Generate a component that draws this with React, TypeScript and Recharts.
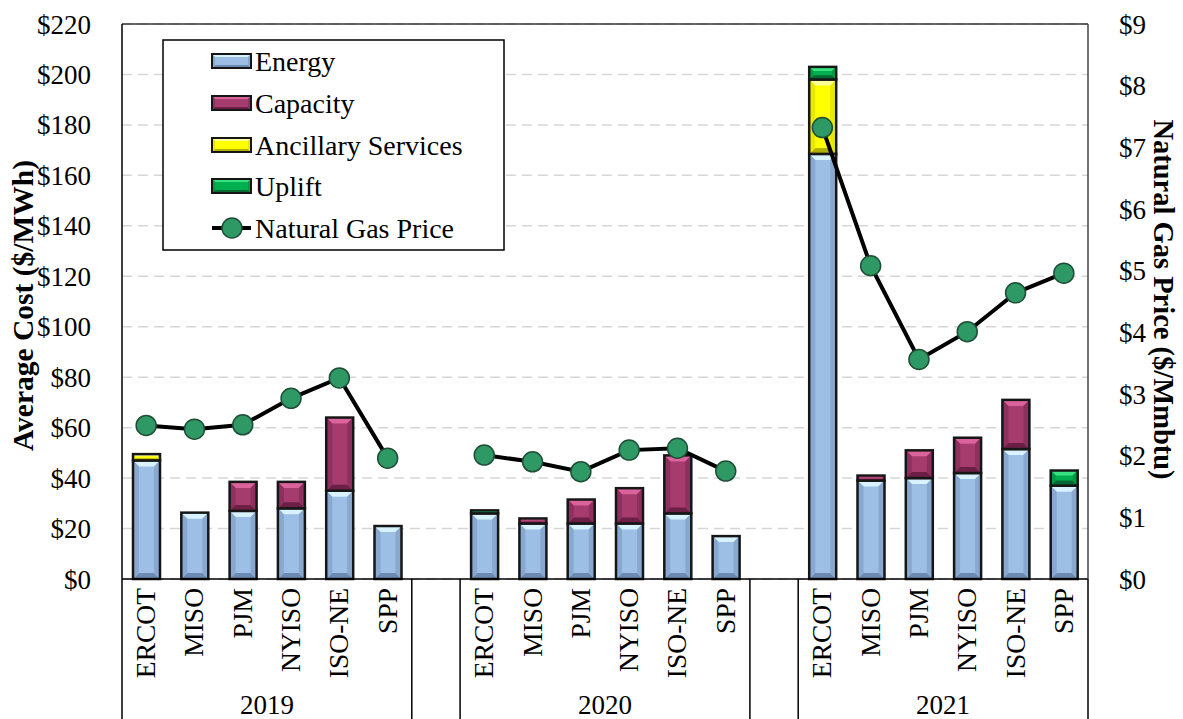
import React from "react";
import {
  Bar,
  CartesianGrid,
  ComposedChart,
  Line,
  ReferenceLine,
  XAxis,
  YAxis,
} from "recharts";

const years = ["2019", "2020", "2021"];
const markets = ["ERCOT", "MISO", "PJM", "NYISO", "ISO-NE", "SPP"];

// 18 values each: 2019 x6, 2020 x6, 2021 x6 ($/MWh)
const energy = [47, 26.3, 27, 28, 35, 21, 26, 22, 22, 22, 26, 17, 168.5, 39, 40, 42, 51.5, 37];
const capacity = [0, 0, 11.5, 10.5, 29, 0, 0, 2, 9.5, 14, 23, 0, 0, 2, 11, 14, 19.5, 0];
const ancillary = [2.5, 0, 0, 0, 0, 0, 0, 0, 0, 0, 0, 0, 29.5, 0, 0, 0, 0, 0];
const uplift = [0, 0, 0, 0, 0, 0, 1.2, 0, 0, 0, 0, 0, 5, 0, 0, 0, 0, 6];
// $/Mmbtu
const gasPrice = [2.49, 2.43, 2.5, 2.93, 3.26, 1.96, 2.01, 1.9, 1.74, 2.09, 2.12, 1.75, 7.32, 5.08, 3.56, 4.01, 4.64, 4.96];

const costTicks = [0, 20, 40, 60, 80, 100, 120, 140, 160, 180, 200, 220];
const gasTicks = [0, 1, 2, 3, 4, 5, 6, 7, 8, 9];

const W = 1183;
const H = 719;
const LEFT_W = 122;
const RIGHT_W = 95;
const TOP = 24;
const XAXIS_H = 140;
const PLOT_W = W - LEFT_W - RIGHT_W;
const PLOT_BOTTOM = H - XAXIS_H;
const FONT = '"Liberation Serif", "Times New Roman", serif';

type Row = {
  id: string;
  name: string;
  year: string;
  pos: number;
  energy?: number | null;
  capacity?: number | null;
  ancillary?: number | null;
  uplift?: number | null;
  gas?: number | null;
};

const nz = (v: number) => (v ? v : null);

const rows: Row[] = [];
years.forEach((yr, yi) => {
  if (yi > 0) rows.push({ id: "gap" + yi, name: "", year: "", pos: -1 });
  markets.forEach((m, mi) => {
    const i = yi * 6 + mi;
    rows.push({
      id: yr + "-" + m,
      name: m,
      year: yr,
      pos: mi,
      energy: nz(energy[i]),
      capacity: nz(capacity[i]),
      ancillary: nz(ancillary[i]),
      uplift: nz(uplift[i]),
      gas: gasPrice[i],
    });
  });
});
const byId: Record<string, Row> = {};
rows.forEach((r) => (byId[r.id] = r));
const HALF = PLOT_W / rows.length / 2;

type Pal = { base: string; light: string; side: string; dark: string };
const PAL: Record<string, Pal> = {
  energy: { base: "#9DBFE5", light: "#D8F3FF", side: "#88A8D0", dark: "#6C8AB2" },
  capacity: { base: "#A63B6D", light: "#DA639C", side: "#8F2F5D", dark: "#6B1F45" },
  ancillary: { base: "#FFFF00", light: "#FFFF9A", side: "#E8E800", dark: "#B0B000" },
  uplift: { base: "#00B050", light: "#38E07E", side: "#009A45", dark: "#006A30" },
};

function bevel(x: number, y: number, w: number, h: number, pal: Pal, depth: number, sw: number) {
  const d = Math.max(0, Math.min(depth, h / 3, w / 4));
  return (
    <g>
      <rect x={x} y={y} width={w} height={h} fill={pal.base} />
      <polygon points={`${x},${y} ${x + w},${y} ${x + w - d},${y + d} ${x + d},${y + d}`} fill={pal.light} />
      <polygon points={`${x},${y + h} ${x + w},${y + h} ${x + w - d},${y + h - d} ${x + d},${y + h - d}`} fill={pal.dark} />
      <polygon points={`${x},${y} ${x + d},${y + d} ${x + d},${y + h - d} ${x},${y + h}`} fill={pal.side} />
      <polygon points={`${x + w},${y} ${x + w - d},${y + d} ${x + w - d},${y + h - d} ${x + w},${y + h}`} fill={pal.side} />
      <rect x={x} y={y} width={w} height={h} fill="none" stroke="#161616" strokeWidth={sw} />
    </g>
  );
}

const makeShape = (pal: Pal) => (p: any) => {
  const { x, y, width, height } = p;
  if (!height || Math.abs(height) < 0.3) return <g />;
  const top = height < 0 ? y + height : y;
  return bevel(x, top, width, Math.abs(height), pal, 6, 2.5);
};

function CatTick(props: any) {
  const { x, payload } = props;
  const row = byId[payload.value];
  if (!row || row.pos < 0) return <g />;
  return (
    <g>
      <text
        transform={`translate(${x + 9},588) rotate(-90)`}
        textAnchor="end"
        fontSize={27.5}
        fontFamily={FONT}
        fill="#000"
      >
        {row.name}
      </text>
      {row.pos === 0 && (
        <line x1={x - HALF} x2={x - HALF} y1={PLOT_BOTTOM} y2={H} stroke="#000" strokeWidth={1.5} />
      )}
      {row.pos === 5 && (
        <line x1={x + HALF} x2={x + HALF} y1={PLOT_BOTTOM} y2={H} stroke="#000" strokeWidth={1.5} />
      )}
      {row.pos === 2 && (
        <text x={x + HALF} y={714} textAnchor="middle" fontSize={27} fontFamily={FONT} fill="#000">
          {row.year}
        </text>
      )}
    </g>
  );
}

const legendItems = [
  { label: "Energy", pal: PAL.energy },
  { label: "Capacity", pal: PAL.capacity },
  { label: "Ancillary Services", pal: PAL.ancillary },
  { label: "Uplift", pal: PAL.uplift },
];

function LegendBox() {
  const rowY = [22, 64, 106, 147, 189];
  return (
    <svg width={343} height={212} style={{ position: "absolute", left: 162, top: 39 }}>
      <rect x={1} y={1} width={341} height={210} fill="#fff" stroke="#000" strokeWidth={1.5} />
      {legendItems.map((it, i) =>
        <g key={it.label}>
          {bevel(50, rowY[i] - 7, 39, 14, it.pal, 3, 2)}
          <text x={93} y={rowY[i]} dominantBaseline="central" fontSize={28} fontFamily={FONT} fill="#000">
            {it.label}
          </text>
        </g>
      )}
      <line x1={50} x2={89} y1={rowY[4]} y2={rowY[4]} stroke="#000" strokeWidth={4} />
      <circle cx={70} cy={rowY[4]} r={10} fill="#2F9966" stroke="#1E4F36" strokeWidth={1.5} />
      <text x={93} y={rowY[4]} dominantBaseline="central" fontSize={28} fontFamily={FONT} fill="#000">
        Natural Gas Price
      </text>
    </svg>
  );
}

export default function App() {
  const tickStyle = { fontSize: 27, fill: "#000", fontFamily: FONT };
  return (
    <div style={{ position: "absolute", left: 0, top: 0, width: W, height: H, background: "#fff" }}>
      <ComposedChart
        width={W}
        height={H}
        data={rows}
        margin={{ top: TOP, right: 0, bottom: 0, left: 0 }}
        barSize={27}
      >
        <CartesianGrid
          yAxisId="left"
          vertical={false}
          stroke="#D6D6D6"
          strokeWidth={1.5}
          strokeDasharray="10 6"
        />
        <XAxis
          dataKey="id"
          type="category"
          interval={0}
          height={XAXIS_H}
          tickLine={false}
          axisLine={{ stroke: "#000", strokeWidth: 1.5 }}
          tick={<CatTick />}
        />
        <YAxis
          yAxisId="left"
          domain={[0, 220]}
          ticks={costTicks}
          interval={0}
          width={LEFT_W}
          tickLine={false}
          tickMargin={25}
          tickFormatter={(v) => "$" + v}
          tick={tickStyle}
          axisLine={{ stroke: "#000", strokeWidth: 1.5 }}
          label={(p: any) => {
            const vb = p.viewBox;
            const cy = vb.y + vb.height / 2 + 4;
            return (
              <text
                transform={`translate(33,${cy}) rotate(-90)`}
                textAnchor="middle"
                fontSize={29.5}
                fontWeight="bold"
                fontFamily={FONT}
                fill="#000"
              >
                Average Cost ($/MWh)
              </text>
            );
          }}
        />
        <YAxis
          yAxisId="right"
          orientation="right"
          domain={[0, 9]}
          ticks={gasTicks}
          interval={0}
          width={RIGHT_W}
          tickLine={false}
          tickMargin={25}
          tickFormatter={(v) => "$" + v}
          tick={tickStyle}
          axisLine={{ stroke: "#444", strokeWidth: 1.5 }}
          label={(p: any) => {
            const vb = p.viewBox;
            const cy = vb.y + vb.height / 2 - 2;
            return (
              <text
                transform={`translate(1154,${cy}) rotate(90)`}
                textAnchor="middle"
                fontSize={28.5}
                fontWeight="bold"
                fontFamily={FONT}
                fill="#000"
              >
                Natural Gas Price ($/Mmbtu)
              </text>
            );
          }}
        />
        <ReferenceLine yAxisId="left" y={220} stroke="#333" strokeWidth={1.5} />
        <Bar yAxisId="left" dataKey="energy" stackId="s" fill={PAL.energy.base} shape={makeShape(PAL.energy)} isAnimationActive={false} />
        <Bar yAxisId="left" dataKey="capacity" stackId="s" fill={PAL.capacity.base} shape={makeShape(PAL.capacity)} isAnimationActive={false} />
        <Bar yAxisId="left" dataKey="ancillary" stackId="s" fill={PAL.ancillary.base} shape={makeShape(PAL.ancillary)} isAnimationActive={false} />
        <Bar yAxisId="left" dataKey="uplift" stackId="s" fill={PAL.uplift.base} shape={makeShape(PAL.uplift)} isAnimationActive={false} />
        <Line
          yAxisId="right"
          dataKey="gas"
          stroke="#000"
          strokeWidth={4}
          dot={{ r: 10, fill: "#2F9966", stroke: "#1E4F36", strokeWidth: 1.5 }}
          activeDot={false}
          connectNulls={false}
          isAnimationActive={false}
        />
      </ComposedChart>
      <LegendBox />
    </div>
  );
}
